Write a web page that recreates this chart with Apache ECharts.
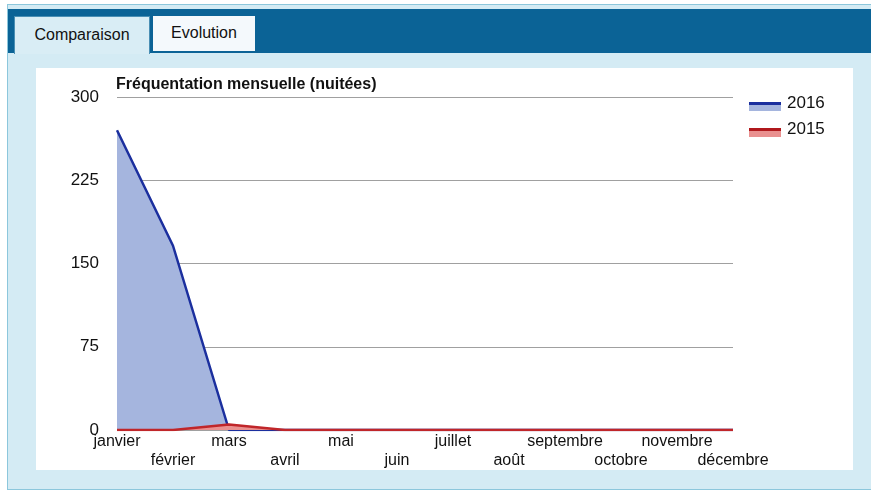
<!DOCTYPE html>
<html>
<head>
<meta charset="utf-8">
<script src="https://cdn.jsdelivr.net/npm/echarts@6/dist/echarts.min.js"></script>
<style>
  body { margin: 0; width: 871px; height: 490px; overflow: hidden; background: #ffffff; font-family: Arial, "Liberation Sans", sans-serif; }
  #frame { position: absolute; left: 7px; top: 4px; width: 870px; height: 484px; background: #d4ebf4; border: 1px solid #8cc7dc; }
  #bar { position: absolute; left: 0; top: 4px; right: 0; height: 44px; background: #0b6396; }
  .tab { position: absolute; top: 11px; height: 37px; font-size: 16px; color: #111; text-align: center; line-height: 36px; }
  #tab1 { left: 6px; width: 134px; background: #d9edf5; border: 1px solid #4a8fb4; border-bottom: none; }
  #tab2 { left: 145px; width: 102px; height: 35px; line-height: 34px; background: #f4f9fc; }
  #main { position: absolute; left: 28px; top: 63px; width: 817px; height: 402px; background: #ffffff; }
</style>
</head>
<body>
<div id="frame">
  <div id="bar"></div>
  <div class="tab" id="tab1">Comparaison</div>
  <div class="tab" id="tab2">Evolution</div>
  <div id="main"></div>
</div>
<script>
var months = ['janvier', 'février', 'mars', 'avril', 'mai', 'juin', 'juillet', 'août', 'septembre', 'octobre', 'novembre', 'décembre'];
var values2016 = [270, 166, 0, 0, 0, 0, 0, 0, 0, 0, 0, 0];
var values2015 = [0, 0, 5, 0, 0, 0, 0, 0, 0, 0, 0, 0];
var yTicks = [0, 75, 150, 225, 300];

var chartDom = document.getElementById('main');
var myChart = echarts.init(chartDom);
var option = {
  animation: false,
  textStyle: { fontFamily: 'Arial, "Liberation Sans", sans-serif' },
  title: {
    text: 'Fréquentation mensuelle (nuitées)',
    left: 75,
    top: 4,
    textStyle: { fontSize: 16, fontWeight: 'bold', color: '#111' }
  },
  grid: { left: 81, right: 120, top: 29, bottom: 40, outerBoundsMode: 'none' },
  xAxis: {
    type: 'category',
    data: months,
    boundaryGap: false,
    axisLine: { show: false },
    axisTick: { show: false },
    axisLabel: {
      interval: 0,
      margin: 2,
      fontSize: 16,
      color: '#111',
      lineHeight: 19,
      formatter: function (v, i) { return i % 2 === 0 ? v + '\n ' : ' \n' + v; }
    }
  },
  yAxis: {
    type: 'value',
    min: yTicks[0],
    max: yTicks[yTicks.length - 1],
    interval: 75,
    axisLine: { show: false },
    axisTick: { show: false },
    axisLabel: { fontSize: 17, color: '#111', margin: 18 },
    splitLine: { lineStyle: { color: '#a0a0a0', width: 1 } }
  },
  series: [
    {
      name: '2016',
      type: 'line',
      data: values2016,
      symbol: 'none',
      lineStyle: { color: '#1b2f9e', width: 2.5 },
      areaStyle: { color: '#a5b5de', opacity: 1 },
      z: 2
    },
    {
      name: '2015',
      type: 'line',
      data: values2015,
      symbol: 'none',
      lineStyle: { color: '#c0262a', width: 2.5 },
      areaStyle: { color: '#e9908f', opacity: 1 },
      z: 3
    }
  ],
  graphic: [
    { type: 'rect', left: 713, top: 36, shape: { width: 32, height: 7 }, style: { fill: '#a5b5de' } },
    { type: 'rect', left: 713, top: 34, shape: { width: 32, height: 3 }, style: { fill: '#1b2f9e' } },
    { type: 'text', left: 751, top: 27, style: { text: '2016', fill: '#111', font: '17px Arial' } },
    { type: 'rect', left: 713, top: 62, shape: { width: 32, height: 7 }, style: { fill: '#e9908f' } },
    { type: 'rect', left: 713, top: 60, shape: { width: 32, height: 3 }, style: { fill: '#b0181c' } },
    { type: 'text', left: 751, top: 53, style: { text: '2015', fill: '#111', font: '17px Arial' } }
  ]
};

option && myChart.setOption(option);

window.onresize = function () {
  myChart.resize();
};
</script>
</body>
</html>
